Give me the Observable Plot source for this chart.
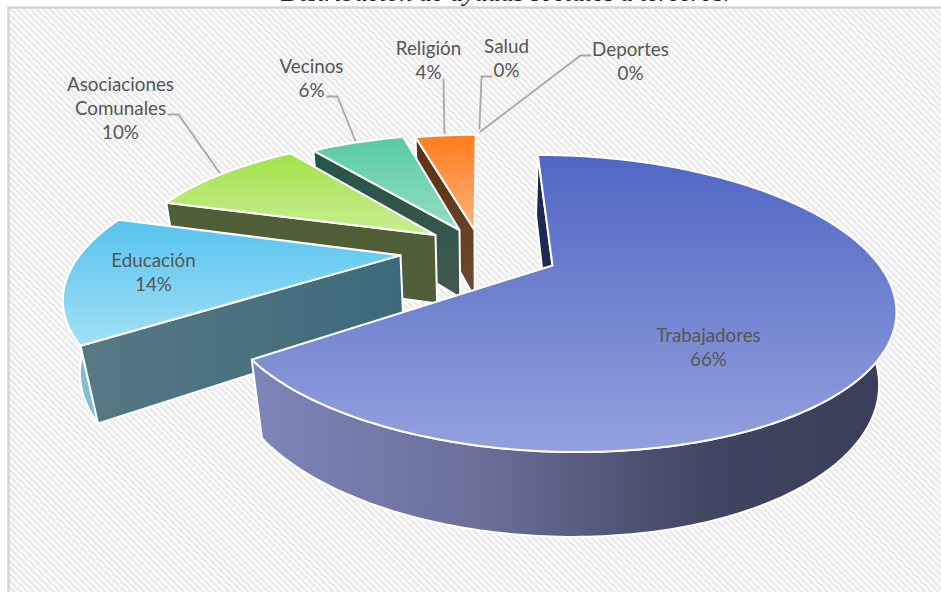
<!DOCTYPE html>
<html>
<head>
<meta charset="utf-8">
<script src="https://cdn.jsdelivr.net/npm/d3@7"></script>
<script src="https://cdn.jsdelivr.net/npm/@observablehq/plot@0.6"></script>
<style>html,body{margin:0;padding:0;background:#fff;overflow:hidden}svg{display:block}</style>
</head>
<body>
<div id="chart"></div>
<script>
// --- data
const categories = ["Trabajadores","Educación","Asociaciones\nComunales","Vecinos","Religión","Salud","Deportes"];
const printedPercent = [66,14,10,6,4,0,0];
const shares = [65.2,14.4,10.2,6.2,4.0,0,0];
const titleText = ["Distribución de ayudas sociales a terceros."];

// --- pie layout: how far each slice is pulled out, and its relative radius
const pullX = [0.2175,-0.2463,-0.144,-0.0679,-0.0194];
const pullY = [0,-0.0735,-0.2294,-0.2702,-0.2702];
const radius = [0.988,0.988,0.97,0.958,0.956];

// --- label placement
const labelX = [708,153,120,311,428,506,630];
const labelY = [346,271,107,77,59,57,60];
const leaderElbow = [null,null,[[168,114],[178,114]],[[327,96],[337,96]],[[443,79]],[[491,76],[481,76]],[[590,55],[580,55]]];
const leaderEnd = [null,null,[221,175],[356,143],[444,137],[479,128],[480,131]];

// --- colours
const topStops = [["#4f66c4","#94a1dd"],["#56c3ee","#a3e0f6"],["#a3e24a","#c9ee92"],["#56cba6","#96ddc4"],["#ff7c1c","#ffb27c"]];
const startFace = [["#1c2755","#222c5a","v"],["#587884","#3c6a7b","h"],["#4e5f36","#515e38","h"],["#25544a","#42584f","v"],["#5c3210","#6b4a32","v"]];
const rimStops = [[["0","#7d85ba"],["0.35","#6a7099"],["0.72","#3f4460"],["1","#3a3e58"]],[["0","#7fc0d6"],["1","#7fc0d6"]],[["0","#4e5f36"],["1","#4e5f36"]],[["0","#33574c"],["1","#33574c"]],[["0","#5c3210"],["1","#5c3210"]]];

// --- perspective projection of the tilted pie onto the page
const camX = 480, camY = 265, a = 331, b = 140.5, k = 0.259, drop = 74, m = 0.04;
function project(X, Y, bottom) {
  const w = 1 - k * Y + (bottom ? m : 0);
  return {x: camX + a * X / w, y: camY + (b * Y + (bottom ? drop : 0)) / w};
}
const total = d3.sum(shares);
let acc = 0;
const slices = shares.map((v, i) => {
  const t0 = acc / total * 360; acc += v;
  return {i, t0, t1: acc / total * 360};
}).filter(d => d.t1 > d.t0);
function rimPoint(s, t, bottom) {
  const r = radius[s.i], th = t * Math.PI / 180;
  return project(pullX[s.i] + r * Math.sin(th), pullY[s.i] - r * Math.cos(th), bottom);
}
function arc(s, bottom) {
  const n = Math.ceil(s.t1 - s.t0), out = [];
  for (let j = 0; j <= n; ++j) out.push(rimPoint(s, s.t0 + (s.t1 - s.t0) * j / n, bottom));
  return out;
}
const close = pts => pts.concat([pts[0]]);
const apex = (s, bottom) => project(pullX[s.i], pullY[s.i], bottom);
const topFace = s => close([apex(s, false), ...arc(s, false)]);
const rimFace = s => close([...arc(s, false), ...arc(s, true).reverse()]);
const radialFace = s => close([rimPoint(s, s.t0, false), apex(s, false), apex(s, true), rimPoint(s, s.t0, true)]);

const face = (pts, fill) => Plot.line(pts, {x: "x", y: "y", fill, stroke: "#fff", strokeWidth: 2, strokeLinejoin: "round", curve: "linear"});

const defsMark = () => {
  const d = d3.create("svg:defs");
  const p = d.append("pattern").attr("id", "hatch").attr("patternUnits", "userSpaceOnUse")
    .attr("width", 4.6).attr("height", 4.6).attr("patternTransform", "rotate(-45)");
  p.append("rect").attr("width", 4.6).attr("height", 4.6).attr("fill", "#fcfcfc");
  p.append("rect").attr("width", 2.3).attr("height", 4.6).attr("fill", "#e9e9e9");
  const grad = (id, stops, horizontal) => {
    const g = d.append("linearGradient").attr("id", id).attr("x1", 0).attr("y1", 0)
      .attr("x2", horizontal ? 1 : 0).attr("y2", horizontal ? 0 : 1);
    stops.forEach(([o, c]) => g.append("stop").attr("offset", o).attr("stop-color", c));
  };
  topStops.forEach((c, i) => grad("top" + i, [["0", c[0]], ["1", c[1]]], false));
  startFace.forEach((c, i) => grad("side" + i, [["0", c[0]], ["1", c[1]]], c[2] === "h"));
  rimStops.forEach((c, i) => grad("rim" + i, c, true));
  return d.node();
};

const pieMarks = slices.slice().reverse().flatMap(s => [
  face(rimFace(s), `url(#rim${s.i})`),
  face(radialFace(s), `url(#side${s.i})`),
  face(topFace(s), `url(#top${s.i})`)
]);

const leaderMarks = categories.flatMap((_, i) => {
  if (!leaderEnd[i]) return [];
  const pts = [...leaderElbow[i], leaderEnd[i]].map(([x, y]) => ({x, y}));
  return [Plot.line(pts, {x: "x", y: "y", stroke: "#a8a8a8", strokeWidth: 1.8, curve: "linear"})];
});

const labels = categories.map((c, i) => ({text: `${c}\n${printedPercent[i]}%`, x: labelX[i], y: labelY[i]}));

const chart = Plot.plot({
  width: 941, height: 592,
  marginLeft: 8, marginTop: 7, marginRight: -4, marginBottom: -4,
  x: {type: "linear", domain: [0, 941], range: [0, 941], axis: null},
  y: {type: "linear", domain: [0, 592], range: [0, 592], axis: null},
  style: {background: "#fff", fontFamily: "Lato"},
  marks: [
    defsMark,
    Plot.frame({fill: "url(#hatch)", stroke: "#d6d6d6", strokeWidth: 2.5}),
    ...leaderMarks,
    ...pieMarks,
    Plot.text(labels, {x: "x", y: "y", text: "text", fill: "#565656", fontSize: 18.8, lineHeight: 1.28, fontFamily: "Lato", textAnchor: "middle"}),
    Plot.text(titleText, {x: () => 505, y: () => 0, text: d => d, fill: "#222", fontSize: 26, fontStyle: "italic", fontFamily: "Liberation Serif", textAnchor: "middle", lineAnchor: "bottom"})
  ]
});
document.getElementById("chart").append(chart);
</script>
</body>
</html>
